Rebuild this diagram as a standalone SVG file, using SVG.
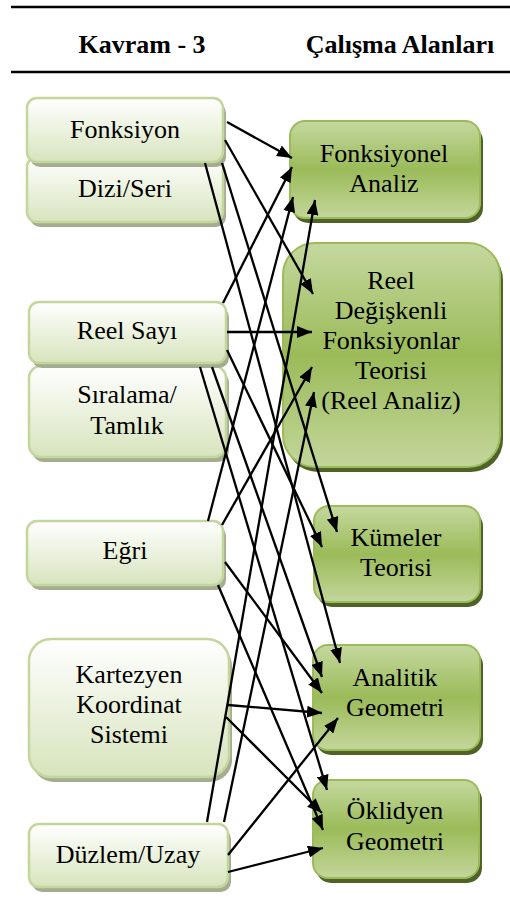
<svg xmlns="http://www.w3.org/2000/svg" width="510" height="909" viewBox="0 0 510 909" font-family="Times New Roman, Liberation Serif, Tinos, Times, serif">
<defs>
<linearGradient id="gl" x1="0" y1="0" x2="0" y2="1">
<stop offset="0" stop-color="#ffffff"/>
<stop offset="1" stop-color="#d7e4bd"/>
</linearGradient>
<linearGradient id="gr" x1="0" y1="0" x2="0" y2="1">
<stop offset="0" stop-color="#c5d89f"/>
<stop offset="0.5" stop-color="#9bbb59"/>
<stop offset="1" stop-color="#c3d69b"/>
</linearGradient>
<marker id="ah" markerUnits="userSpaceOnUse" markerWidth="16" markerHeight="12" refX="15" refY="6" orient="auto">
<path d="M0,0 L15,6 L0,12 z" fill="#000"/>
</marker>
</defs>
<g id="header">
<line x1="11" y1="7" x2="510" y2="7" stroke="#000" stroke-width="2.5"/>
<line x1="11" y1="72" x2="510" y2="72" stroke="#000" stroke-width="2.5"/>
</g>
<text x="142" y="53" font-family="Times New Roman, Liberation Serif, serif" font-size="26" font-weight="bold" text-anchor="middle">Kavram - 3</text>
<text x="400" y="53" font-family="Times New Roman, Liberation Serif, serif" font-size="26" font-weight="bold" text-anchor="middle">Çalışma Alanları</text>
<g id="dizi">
<rect x="30" y="162" width="196" height="65" rx="10" fill="#a4ad91"/>
<rect x="27" y="157" width="196" height="65" rx="10" fill="url(#gl)" stroke="#c3d69b" stroke-width="2.5"/>
<text x="125" y="197" font-family="Times New Roman, Liberation Serif, serif" font-size="26" text-anchor="middle">Dizi/Seri</text>
</g>
<g id="fonksiyon">
<rect x="30" y="103" width="196" height="64" rx="10" fill="#a4ad91"/>
<rect x="27" y="98" width="196" height="64" rx="10" fill="url(#gl)" stroke="#c3d69b" stroke-width="2.5"/>
<text x="125" y="138" font-family="Times New Roman, Liberation Serif, serif" font-size="26" text-anchor="middle">Fonksiyon</text>
</g>
<g id="siralama">
<rect x="32" y="371" width="197" height="91" rx="12" fill="#a4ad91"/>
<rect x="29" y="366" width="197" height="91" rx="12" fill="url(#gl)" stroke="#c3d69b" stroke-width="2.5"/>
<text x="127" y="403" font-family="Times New Roman, Liberation Serif, serif" font-size="26" text-anchor="middle">Sıralama/</text>
<text x="127" y="434" font-family="Times New Roman, Liberation Serif, serif" font-size="26" text-anchor="middle">Tamlık</text>
</g>
<g id="reelsayi">
<rect x="32" y="307" width="197" height="61" rx="10" fill="#a4ad91"/>
<rect x="29" y="302" width="197" height="61" rx="10" fill="url(#gl)" stroke="#c3d69b" stroke-width="2.5"/>
<text x="127" y="339" font-family="Times New Roman, Liberation Serif, serif" font-size="26" text-anchor="middle">Reel Sayı</text>
</g>
<g id="egri">
<rect x="30" y="526" width="196" height="64" rx="10" fill="#a4ad91"/>
<rect x="27" y="521" width="196" height="64" rx="10" fill="url(#gl)" stroke="#c3d69b" stroke-width="2.5"/>
<text x="125" y="559" font-family="Times New Roman, Liberation Serif, serif" font-size="26" text-anchor="middle">Eğri</text>
</g>
<g id="kartezyen">
<rect x="32" y="644" width="200" height="138" rx="22" fill="#a4ad91"/>
<rect x="29" y="639" width="200" height="138" rx="22" fill="url(#gl)" stroke="#c3d69b" stroke-width="2.5"/>
<text x="129" y="683" font-family="Times New Roman, Liberation Serif, serif" font-size="26" text-anchor="middle">Kartezyen</text>
<text x="129" y="713" font-family="Times New Roman, Liberation Serif, serif" font-size="26" text-anchor="middle">Koordinat</text>
<text x="129" y="743" font-family="Times New Roman, Liberation Serif, serif" font-size="26" text-anchor="middle">Sistemi</text>
</g>
<g id="duzlem">
<rect x="32" y="829" width="199" height="63" rx="10" fill="#a4ad91"/>
<rect x="29" y="824" width="199" height="63" rx="10" fill="url(#gl)" stroke="#c3d69b" stroke-width="2.5"/>
<text x="128" y="863" font-family="Times New Roman, Liberation Serif, serif" font-size="26" text-anchor="middle">Düzlem/Uzay</text>
</g>
<g id="fonksiyonel">
<rect x="293" y="126" width="190" height="97" rx="15" fill="#4f6228"/>
<rect x="290" y="121" width="190" height="97" rx="15" fill="url(#gr)" stroke="#9bbb59" stroke-width="2"/>
<text x="384" y="162" font-family="Times New Roman, Liberation Serif, serif" font-size="26" text-anchor="middle">Fonksiyonel</text>
<text x="384" y="192" font-family="Times New Roman, Liberation Serif, serif" font-size="26" text-anchor="middle">Analiz</text>
</g>
<g id="reeldegiskenli">
<rect x="286" y="248" width="217" height="224" rx="32" fill="#4f6228"/>
<rect x="283" y="243" width="217" height="224" rx="32" fill="url(#gr)" stroke="#9bbb59" stroke-width="2"/>
<text x="391" y="289" font-family="Times New Roman, Liberation Serif, serif" font-size="26" text-anchor="middle">Reel</text>
<text x="391" y="319" font-family="Times New Roman, Liberation Serif, serif" font-size="26" text-anchor="middle">Değişkenli</text>
<text x="391" y="349" font-family="Times New Roman, Liberation Serif, serif" font-size="26" text-anchor="middle">Fonksiyonlar</text>
<text x="391" y="379" font-family="Times New Roman, Liberation Serif, serif" font-size="26" text-anchor="middle">Teorisi</text>
<text x="391" y="409" font-family="Times New Roman, Liberation Serif, serif" font-size="26" text-anchor="middle">(Reel Analiz)</text>
</g>
<g id="kumeler">
<rect x="317" y="511" width="166" height="96" rx="15" fill="#4f6228"/>
<rect x="314" y="506" width="166" height="96" rx="15" fill="url(#gr)" stroke="#9bbb59" stroke-width="2"/>
<text x="396" y="546" font-family="Times New Roman, Liberation Serif, serif" font-size="26" text-anchor="middle">Kümeler</text>
<text x="396" y="576" font-family="Times New Roman, Liberation Serif, serif" font-size="26" text-anchor="middle">Teorisi</text>
</g>
<g id="analitik">
<rect x="316" y="650" width="167" height="105" rx="15" fill="#4f6228"/>
<rect x="313" y="645" width="167" height="105" rx="15" fill="url(#gr)" stroke="#9bbb59" stroke-width="2"/>
<text x="395" y="686" font-family="Times New Roman, Liberation Serif, serif" font-size="26" text-anchor="middle">Analitik</text>
<text x="395" y="716" font-family="Times New Roman, Liberation Serif, serif" font-size="26" text-anchor="middle">Geometri</text>
</g>
<g id="oklidyen">
<rect x="316" y="785" width="166" height="98" rx="15" fill="#4f6228"/>
<rect x="313" y="780" width="166" height="98" rx="15" fill="url(#gr)" stroke="#9bbb59" stroke-width="2"/>
<text x="395" y="819" font-family="Times New Roman, Liberation Serif, serif" font-size="26" text-anchor="middle">Öklidyen</text>
<text x="395" y="850" font-family="Times New Roman, Liberation Serif, serif" font-size="26" text-anchor="middle">Geometri</text>
</g>
<g id="connectors" stroke="#000" stroke-width="2.3" marker-end="url(#ah)">
<line x1="227" y1="122" x2="292" y2="158"/>
<line x1="225" y1="140" x2="313" y2="294"/>
<line x1="205" y1="163" x2="340" y2="663"/>
<line x1="222" y1="163" x2="337" y2="532"/>
<line x1="223" y1="303" x2="292" y2="167"/>
<line x1="227" y1="332" x2="312" y2="332"/>
<line x1="227" y1="350" x2="322" y2="547"/>
<line x1="200" y1="367" x2="327" y2="790"/>
<line x1="212" y1="367" x2="322" y2="677"/>
<line x1="208" y1="521" x2="293" y2="197"/>
<line x1="222" y1="525" x2="312" y2="367"/>
<line x1="225" y1="562" x2="322" y2="693"/>
<line x1="218" y1="585" x2="323" y2="830"/>
<line x1="228" y1="705" x2="322" y2="713"/>
<line x1="226" y1="717" x2="322" y2="813"/>
<line x1="207" y1="822" x2="315" y2="200"/>
<line x1="224" y1="822" x2="314" y2="392"/>
<line x1="228" y1="855" x2="338" y2="718"/>
<line x1="228" y1="872" x2="323" y2="848"/>
</g>
</svg>
